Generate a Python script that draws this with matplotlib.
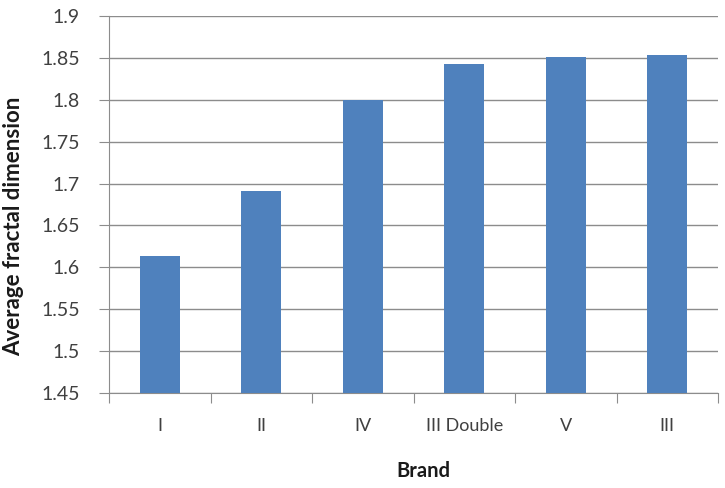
import matplotlib
matplotlib.use("Agg")
import matplotlib.pyplot as plt
import numpy as np

brands = ["I", "II", "IV", "III Double", "V", "III"]
values = [1.614, 1.691, 1.800, 1.843, 1.851, 1.853]
yticks = [1.45, 1.5, 1.55, 1.6, 1.65, 1.7, 1.75, 1.8, 1.85, 1.9]

plt.rcParams['font.family'] = ['Lato', 'DejaVu Sans']

W, H = 725, 488
fig = plt.figure(figsize=(W / 100, H / 100), dpi=100)
ax = fig.add_axes([109 / W, 1 - 393 / H, (718 - 109) / W, (393 - 16) / H])

x = np.arange(len(brands))
ax.bar(x, values, width=0.39, color="#4F81BD", zorder=3, bottom=0)
ax.set_ylim(1.45, 1.9)
ax.set_xlim(-0.5, len(brands) - 0.5)
ax.set_yticks(yticks)
ax.set_yticklabels([("%g" % v) for v in yticks], fontsize=14, color="#404040")
ax.yaxis.grid(True, color="#8c8c8c", linewidth=1.0, zorder=0)
ax.set_axisbelow(True)

ax.set_xticks(np.arange(-0.5, len(brands), 1.0))
ax.set_xticklabels([])
ax.set_xticks(x, minor=True)
ax.set_xticklabels(brands, minor=True, fontsize=13, color="#404040")
ax.tick_params(axis='x', which='major', length=7, color="#8c8c8c", direction='out')
ax.tick_params(axis='x', which='minor', length=0, pad=18)
ax.tick_params(axis='y', length=7, color="#8c8c8c", pad=14)

for s in ["top", "right"]:
    ax.spines[s].set_visible(False)
for s in ["left", "bottom"]:
    ax.spines[s].set_color("#8c8c8c")

fig.text(423 / W, 1 - 471 / H, "Brand", fontsize=14.5, fontweight="bold",
         ha="center", va="center", color="#1a1a1a")
fig.text(14 / W, 1 - 226 / H, "Average fractal dimension", fontsize=16,
         fontweight="bold", rotation=90, ha="center", va="center", color="#1a1a1a")

fig.savefig("out.png", dpi=100)
